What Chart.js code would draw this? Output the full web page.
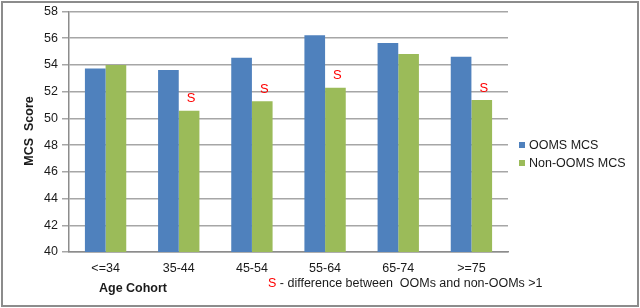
<!DOCTYPE html>
<html>
<head>
<meta charset="utf-8">
<script src="https://cdn.jsdelivr.net/npm/chart.js@4"></script>
<style>
  html, body { margin: 0; padding: 0; background: #fff; }
  #wrap { width: 640px; height: 308px; position: relative; }
</style>
</head>
<body>
<div id="wrap"><canvas id="mcsChart" width="640" height="308"></canvas></div>
<script>
const ageCohorts = ['<=34', '35-44', '45-54', '55-64', '65-74', '>=75'];
const oomsMcs = [53.73, 53.63, 54.54, 56.22, 55.65, 54.62];
const nonOomsMcs = [54.0, 50.57, 51.28, 52.3, 54.81, 51.38];
const significant = [false, true, true, true, false, true];
const yTicks = [40, 42, 44, 46, 48, 50, 52, 54, 56, 58];

const FONT = 'Liberation Sans, Arial, sans-serif';
const BLUE = '#4F81BD';
const GREEN = '#9BBB59';

// extra bits Excel drew: frame, legend, S marks, axis titles, footnote
const decorations = {
    id: 'decorations',
    afterDraw(chart) {
        const ctx = chart.ctx;
        ctx.save();

        ctx.strokeStyle = '#8c8c8c';
        ctx.lineWidth = 2;
        ctx.strokeRect(2, 2, 636, 304);

        // S marks above green bars
        const meta = chart.getDatasetMeta(1);
        ctx.fillStyle = '#ff0000';
        ctx.font = '13px ' + FONT;
        ctx.textAlign = 'center';
        ctx.textBaseline = 'middle';
        significant.forEach((s, i) => {
            if (!s) return;
            const bar = meta.data[i];
            ctx.fillText('S', bar.x + 2, bar.y - 12);
        });

        // legend
        ctx.textAlign = 'left';
        ctx.font = '12.5px ' + FONT;
        const items = [['OOMS MCS', BLUE, 145], ['Non-OOMS MCS', GREEN, 163]];
        items.forEach(([label, color, y]) => {
            ctx.fillStyle = color;
            ctx.fillRect(519, y - 3, 6, 6);
            ctx.fillStyle = '#1a1a1a';
            ctx.fillText(label, 529, y + 1);
        });

        // y title
        ctx.save();
        ctx.translate(30, 131);
        ctx.rotate(-Math.PI / 2);
        ctx.font = 'bold 12.5px ' + FONT;
        ctx.textAlign = 'center';
        ctx.fillStyle = '#1a1a1a';
        ctx.fillText('MCS  Score', 0, 0);
        ctx.restore();

        // x title
        ctx.font = 'bold 12.5px ' + FONT;
        ctx.textAlign = 'center';
        ctx.fillStyle = '#1a1a1a';
        ctx.fillText('Age Cohort', 133, 289);

        // footnote
        ctx.textAlign = 'left';
        ctx.font = '12.5px ' + FONT;
        ctx.fillStyle = '#ff0000';
        ctx.fillText('S', 268, 284);
        const w = ctx.measureText('S').width;
        ctx.fillStyle = '#1a1a1a';
        ctx.fillText(' - difference between  OOMs and non-OOMs >1', 268 + w, 284);

        ctx.restore();
    }
};

function renderChart() {
    const ctx = document.getElementById('mcsChart').getContext('2d');
    new Chart(ctx, {
        type: 'bar',
        data: {
            labels: ageCohorts,
            datasets: [
                { label: 'OOMS MCS', data: oomsMcs, backgroundColor: BLUE },
                { label: 'Non-OOMS MCS', data: nonOomsMcs, backgroundColor: GREEN }
            ]
        },
        options: {
            responsive: false,
            animation: false,
            devicePixelRatio: 1,
            layout: { padding: { left: 0, right: 132, top: 9, bottom: 0 } },
            datasets: { bar: { barPercentage: 1.0, categoryPercentage: 0.565 } },
            plugins: { legend: { display: false }, tooltip: { enabled: false } },
            scales: {
                x: {
                    grid: { display: false, drawTicks: false },
                    border: { color: '#8c8c8c', width: 1.5 },
                    ticks: { color: '#1a1a1a', font: { family: FONT, size: 12.5 }, padding: 9, maxRotation: 0 },
                    afterFit: scale => { scale.height = 56; }
                },
                y: {
                    min: 40,
                    max: 58,
                    afterBuildTicks: scale => { scale.ticks = yTicks.map(v => ({ value: v })); },
                    grid: { color: '#a6a6a6', lineWidth: 1.5, tickLength: 7 },
                    border: { color: '#8c8c8c', width: 1.5 },
                    ticks: { color: '#1a1a1a', font: { family: FONT, size: 12.5 }, padding: 4 },
                    afterFit: scale => { scale.width = 69; }
                }
            }
        },
        plugins: [decorations]
    });
}

window.onload = renderChart;
</script>
</body>
</html>
